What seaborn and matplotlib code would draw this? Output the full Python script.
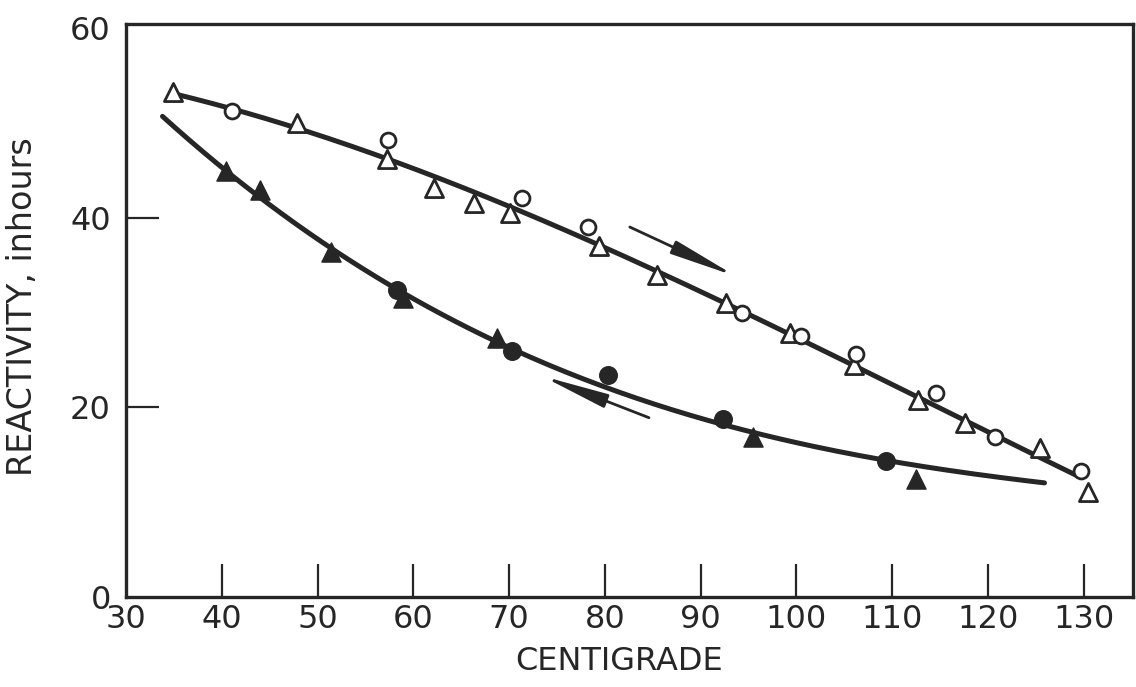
import numpy as np
import pandas as pd
import matplotlib
matplotlib.use("Agg")
import matplotlib.pyplot as plt
import seaborn as sns

# ---- data ----
open_tri_x = [34.9, 47.8, 57.2, 62.2, 66.3, 70.1, 79.4, 85.4, 92.6, 99.3, 106.0, 112.7, 117.6, 125.4, 130.4]
open_tri_y = [53.2, 50.0, 46.2, 43.1, 41.5, 40.5, 37.0, 33.9, 31.0, 27.8, 24.5, 20.8, 18.3, 15.7, 11.1]

open_circ_x = [41.1, 57.3, 71.3, 78.2, 94.3, 100.5, 106.2, 114.6, 120.7, 129.7]
open_circ_y = [51.2, 48.2, 42.1, 39.0, 29.9, 27.5, 25.6, 21.5, 16.9, 13.3]

fill_tri_x = [40.4, 44.0, 51.4, 58.9, 68.7, 95.5, 112.5]
fill_tri_y = [44.9, 42.9, 36.4, 31.5, 27.3, 16.9, 12.4]

fill_circ_x = [58.3, 70.3, 80.3, 92.3, 109.3]
fill_circ_y = [32.4, 25.9, 23.4, 18.8, 14.3]

# hand-drawn smooth curves (anchor points)
up_curve_x = [35.0, 41.1, 47.8, 57.2, 70.1, 79.4, 85.4, 92.6, 100.0, 106.0, 112.7, 120.7, 129.4]
up_curve_y = [52.9, 51.3, 49.9, 46.4, 40.8, 37.0, 34.1, 31.0, 27.6, 24.6, 21.0, 17.0, 12.7]
lo_curve_x = [33.8, 40.4, 51.4, 58.5, 68.7, 80.0, 92.3, 95.5, 109.3, 120.0, 125.9]
lo_curve_y = [50.9, 44.9, 36.4, 32.0, 27.3, 22.4, 18.5, 17.2, 14.0, 12.5, 12.4]

x_ticks = [30, 40, 50, 60, 70, 80, 90, 100, 110, 120, 130]
y_ticks = [0, 20, 40, 60]

INK = "#262626"

sns.set_style("ticks")
plt.rcParams["font.family"] = ["DejaVu Sans"]

fig = plt.figure(figsize=(11.36, 6.87), dpi=100)
ax = fig.add_axes([0.111, 0.131, 0.886, 0.834])

def smooth(xs, ys, deg):
    c = np.polyfit(xs, ys, deg)
    xx = np.linspace(min(xs), max(xs), 200)
    return pd.DataFrame({"x": xx, "y": np.polyval(c, xx)})

up = smooth(up_curve_x, up_curve_y, 3)
lo = smooth(lo_curve_x, lo_curve_y, 3)
sns.lineplot(data=up, x="x", y="y", ax=ax, color=INK, lw=3.6, sort=False)
sns.lineplot(data=lo, x="x", y="y", ax=ax, color=INK, lw=3.6, sort=False)

sns.scatterplot(x=open_tri_x, y=open_tri_y, ax=ax, marker="^", s=170,
                facecolor="white", edgecolor=INK, linewidth=2.0, zorder=3)
sns.scatterplot(x=open_circ_x, y=open_circ_y, ax=ax, marker="o", s=115,
                facecolor="white", edgecolor=INK, linewidth=2.0, zorder=3)
sns.scatterplot(x=fill_tri_x, y=fill_tri_y, ax=ax, marker="^", s=190,
                color=INK, edgecolor=INK, linewidth=1.0, zorder=3)
sns.scatterplot(x=fill_circ_x, y=fill_circ_y, ax=ax, marker="o", s=160,
                color=INK, edgecolor=INK, linewidth=1.0, zorder=3)

# direction arrows
astyle = "-|>,head_length=4.0,head_width=0.42"
ax.annotate("", xy=(93.7, 33.8), xytext=(82.6, 39.0),
            arrowprops=dict(arrowstyle=astyle, color=INK, lw=2.0,
                            shrinkA=0, shrinkB=0))
ax.annotate("", xy=(73.4, 23.3), xytext=(84.6, 18.9),
            arrowprops=dict(arrowstyle=astyle, color=INK, lw=2.0,
                            shrinkA=0, shrinkB=0))

ax.set_xlim(30, 135.1)
ax.set_ylim(0, 60.4)
ax.set_xticks(x_ticks)
ax.set_xticklabels([str(t) for t in x_ticks])
ax.set_yticks(y_ticks)
ax.set_yticklabels([str(t) for t in y_ticks])
ax.tick_params(direction="in", length=24, width=1.6, colors=INK,
               labelsize=23)
ax.tick_params(axis="x", pad=5)
ax.tick_params(axis="y", pad=11)
# ticks at the frame edges are hidden by the spines in the reference
ax.yaxis.get_major_ticks()[0].tick1line.set_visible(False)
ax.yaxis.get_major_ticks()[-1].tick1line.set_visible(False)
ax.xaxis.get_major_ticks()[0].tick1line.set_visible(False)
for sp in ax.spines.values():
    sp.set_linewidth(2.4)
    sp.set_color(INK)

ax.set_xlabel("CENTIGRADE", fontsize=23, color=INK)
ax.xaxis.set_label_coords(0.49, -0.085)
ax.set_ylabel("REACTIVITY, inhours", fontsize=24, color=INK)
ax.yaxis.set_label_coords(-0.087, 0.506)

fig.savefig("out.png", dpi=100)
